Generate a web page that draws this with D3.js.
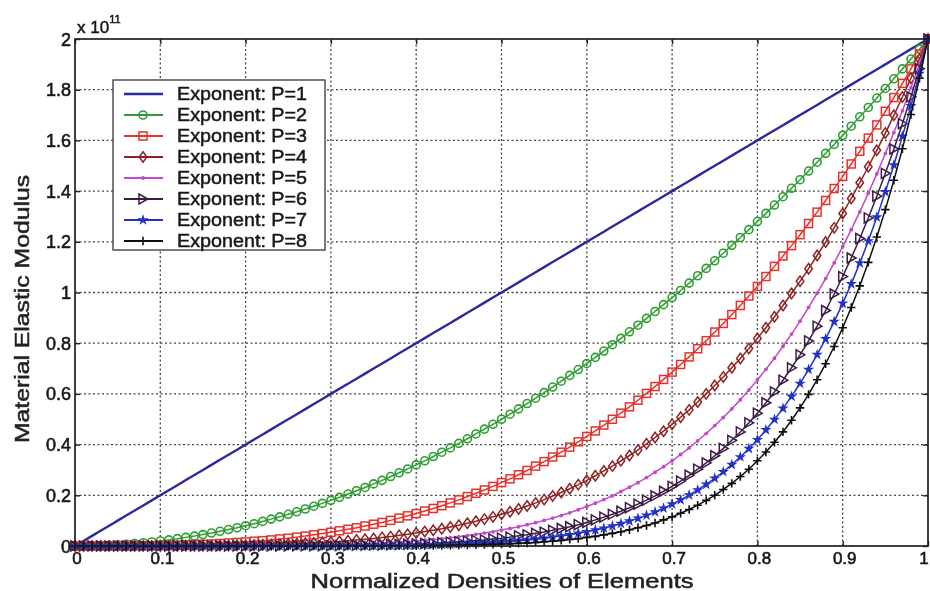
<!DOCTYPE html>
<html>
<head>
<meta charset="utf-8">
<script src="https://cdn.jsdelivr.net/npm/d3@7"></script>
<style>
  body { margin: 0; background: #fff; }
  text { font-family: Arial, "Liberation Sans", sans-serif; }
</style>
</head>
<body>
<script>
// normalized density of the elements (x axis)
const density = [
  0, 0.01, 0.02, 0.03, 0.04, 0.05, 0.06, 0.07, 0.08, 0.09,
  0.1, 0.11, 0.12, 0.13, 0.14, 0.15, 0.16, 0.17, 0.18, 0.19,
  0.2, 0.21, 0.22, 0.23, 0.24, 0.25, 0.26, 0.27, 0.28, 0.29,
  0.3, 0.31, 0.32, 0.33, 0.34, 0.35, 0.36, 0.37, 0.38, 0.39,
  0.4, 0.41, 0.42, 0.43, 0.44, 0.45, 0.46, 0.47, 0.48, 0.49,
  0.5, 0.51, 0.52, 0.53, 0.54, 0.55, 0.56, 0.57, 0.58, 0.59,
  0.6, 0.61, 0.62, 0.63, 0.64, 0.65, 0.66, 0.67, 0.68, 0.69,
  0.7, 0.71, 0.72, 0.73, 0.74, 0.75, 0.76, 0.77, 0.78, 0.79,
  0.8, 0.81, 0.82, 0.83, 0.84, 0.85, 0.86, 0.87, 0.88, 0.89,
  0.9, 0.91, 0.92, 0.93, 0.94, 0.95, 0.96, 0.97, 0.98, 0.99,
  1
];

// elastic modulus, in units of 1e11
const modP1 = [
  0, 0.02, 0.04, 0.06, 0.08, 0.10, 0.12, 0.14, 0.16, 0.18,
  0.20, 0.22, 0.24, 0.26, 0.28, 0.30, 0.32, 0.34, 0.36, 0.38,
  0.40, 0.42, 0.44, 0.46, 0.48, 0.50, 0.52, 0.54, 0.56, 0.58,
  0.60, 0.62, 0.64, 0.66, 0.68, 0.70, 0.72, 0.74, 0.76, 0.78,
  0.80, 0.82, 0.84, 0.86, 0.88, 0.90, 0.92, 0.94, 0.96, 0.98,
  1.00, 1.02, 1.04, 1.06, 1.08, 1.10, 1.12, 1.14, 1.16, 1.18,
  1.20, 1.22, 1.24, 1.26, 1.28, 1.30, 1.32, 1.34, 1.36, 1.38,
  1.40, 1.42, 1.44, 1.46, 1.48, 1.50, 1.52, 1.54, 1.56, 1.58,
  1.60, 1.62, 1.64, 1.66, 1.68, 1.70, 1.72, 1.74, 1.76, 1.78,
  1.80, 1.82, 1.84, 1.86, 1.88, 1.90, 1.92, 1.94, 1.96, 1.98,
  2
];
const modP2 = [
  0, 0.000, 0.001, 0.002, 0.003, 0.005, 0.007, 0.010, 0.013, 0.016,
  0.020, 0.024, 0.029, 0.034, 0.039, 0.045, 0.051, 0.058, 0.065, 0.072,
  0.080, 0.088, 0.097, 0.106, 0.115, 0.125, 0.135, 0.146, 0.157, 0.168,
  0.180, 0.192, 0.205, 0.218, 0.231, 0.245, 0.259, 0.274, 0.289, 0.304,
  0.320, 0.336, 0.353, 0.370, 0.387, 0.405, 0.423, 0.442, 0.461, 0.480,
  0.500, 0.520, 0.541, 0.562, 0.583, 0.605, 0.627, 0.650, 0.673, 0.696,
  0.720, 0.744, 0.769, 0.794, 0.819, 0.845, 0.871, 0.898, 0.925, 0.952,
  0.980, 1.008, 1.037, 1.066, 1.095, 1.125, 1.155, 1.186, 1.217, 1.248,
  1.280, 1.312, 1.345, 1.378, 1.411, 1.445, 1.479, 1.514, 1.549, 1.584,
  1.620, 1.656, 1.693, 1.730, 1.767, 1.805, 1.843, 1.882, 1.921, 1.960,
  2
];
const modP3 = [
  0, 0, 0, 0, 0, 0, 0, 0.001, 0.001, 0.001,
  0.002, 0.003, 0.003, 0.004, 0.005, 0.007, 0.008, 0.010, 0.012, 0.014,
  0.016, 0.019, 0.021, 0.024, 0.028, 0.031, 0.035, 0.039, 0.044, 0.049,
  0.054, 0.060, 0.066, 0.072, 0.079, 0.086, 0.093, 0.101, 0.110, 0.119,
  0.128, 0.138, 0.148, 0.159, 0.170, 0.182, 0.195, 0.208, 0.221, 0.235,
  0.250, 0.265, 0.281, 0.298, 0.315, 0.333, 0.351, 0.370, 0.390, 0.411,
  0.432, 0.454, 0.477, 0.500, 0.524, 0.549, 0.575, 0.602, 0.629, 0.657,
  0.686, 0.716, 0.746, 0.778, 0.810, 0.844, 0.878, 0.913, 0.949, 0.986,
  1.024, 1.063, 1.103, 1.144, 1.185, 1.228, 1.272, 1.317, 1.363, 1.410,
  1.458, 1.507, 1.557, 1.609, 1.661, 1.715, 1.769, 1.825, 1.882, 1.941,
  2
];
const modP4 = [
  0, 0, 0, 0, 0, 0, 0, 0, 0, 0,
  0, 0, 0, 0.001, 0.001, 0.001, 0.001, 0.002, 0.002, 0.003,
  0.003, 0.004, 0.005, 0.006, 0.007, 0.008, 0.009, 0.011, 0.012, 0.014,
  0.016, 0.018, 0.021, 0.024, 0.027, 0.030, 0.034, 0.037, 0.042, 0.046,
  0.051, 0.057, 0.062, 0.068, 0.075, 0.082, 0.090, 0.098, 0.106, 0.115,
  0.125, 0.135, 0.146, 0.158, 0.170, 0.183, 0.197, 0.211, 0.226, 0.242,
  0.259, 0.277, 0.296, 0.315, 0.336, 0.357, 0.379, 0.403, 0.428, 0.453,
  0.480, 0.508, 0.537, 0.568, 0.600, 0.633, 0.667, 0.703, 0.740, 0.779,
  0.819, 0.861, 0.904, 0.949, 0.996, 1.044, 1.094, 1.146, 1.199, 1.255,
  1.312, 1.371, 1.433, 1.496, 1.561, 1.629, 1.699, 1.771, 1.845, 1.921,
  2
];
const modP5 = [
  0, 0, 0, 0, 0, 0, 0, 0, 0, 0,
  0, 0, 0, 0, 0, 0, 0, 0, 0, 0,
  0.001, 0.001, 0.001, 0.001, 0.002, 0.002, 0.002, 0.003, 0.003, 0.004,
  0.005, 0.006, 0.007, 0.008, 0.009, 0.011, 0.012, 0.014, 0.016, 0.018,
  0.020, 0.023, 0.026, 0.029, 0.033, 0.037, 0.041, 0.046, 0.051, 0.056,
  0.063, 0.069, 0.076, 0.084, 0.092, 0.101, 0.110, 0.120, 0.131, 0.143,
  0.156, 0.169, 0.183, 0.198, 0.215, 0.232, 0.250, 0.270, 0.291, 0.313,
  0.336, 0.361, 0.387, 0.415, 0.444, 0.475, 0.507, 0.541, 0.577, 0.615,
  0.655, 0.697, 0.741, 0.788, 0.836, 0.887, 0.941, 0.997, 1.055, 1.117,
  1.181, 1.248, 1.318, 1.391, 1.468, 1.548, 1.631, 1.717, 1.808, 1.902,
  2
];
const modP6 = [
  0, 0, 0, 0, 0, 0, 0, 0, 0, 0,
  0, 0, 0, 0, 0, 0, 0, 0, 0, 0,
  0, 0, 0, 0, 0, 0, 0.001, 0.001, 0.001, 0.001,
  0.001, 0.002, 0.002, 0.003, 0.003, 0.004, 0.004, 0.005, 0.006, 0.007,
  0.008, 0.010, 0.011, 0.013, 0.015, 0.017, 0.019, 0.022, 0.024, 0.028,
  0.031, 0.035, 0.040, 0.044, 0.050, 0.055, 0.062, 0.069, 0.076, 0.084,
  0.093, 0.103, 0.114, 0.125, 0.137, 0.151, 0.165, 0.181, 0.198, 0.216,
  0.235, 0.256, 0.279, 0.303, 0.328, 0.356, 0.385, 0.417, 0.450, 0.486,
  0.524, 0.565, 0.608, 0.654, 0.703, 0.754, 0.809, 0.867, 0.929, 0.994,
  1.063, 1.136, 1.213, 1.294, 1.380, 1.470, 1.566, 1.666, 1.772, 1.883,
  2
];
const modP7 = [
  0, 0, 0, 0, 0, 0, 0, 0, 0, 0,
  0, 0, 0, 0, 0, 0, 0, 0, 0, 0,
  0, 0, 0, 0, 0, 0, 0, 0, 0, 0,
  0, 0.001, 0.001, 0.001, 0.001, 0.001, 0.002, 0.002, 0.002, 0.003,
  0.003, 0.004, 0.005, 0.005, 0.006, 0.007, 0.009, 0.010, 0.012, 0.014,
  0.016, 0.018, 0.021, 0.023, 0.027, 0.030, 0.035, 0.039, 0.044, 0.050,
  0.056, 0.063, 0.070, 0.079, 0.088, 0.098, 0.109, 0.121, 0.134, 0.149,
  0.165, 0.182, 0.201, 0.221, 0.243, 0.267, 0.293, 0.321, 0.351, 0.384,
  0.419, 0.458, 0.499, 0.543, 0.590, 0.641, 0.696, 0.755, 0.817, 0.885,
  0.957, 1.034, 1.116, 1.203, 1.297, 1.397, 1.503, 1.616, 1.736, 1.864,
  2
];
const modP8 = [
  0, 0, 0, 0, 0, 0, 0, 0, 0, 0,
  0, 0, 0, 0, 0, 0, 0, 0, 0, 0,
  0, 0, 0, 0, 0, 0, 0, 0, 0, 0,
  0, 0, 0, 0, 0, 0, 0.001, 0.001, 0.001, 0.001,
  0.001, 0.002, 0.002, 0.002, 0.003, 0.003, 0.004, 0.005, 0.006, 0.007,
  0.008, 0.009, 0.011, 0.012, 0.014, 0.017, 0.019, 0.022, 0.026, 0.029,
  0.034, 0.038, 0.044, 0.050, 0.056, 0.064, 0.072, 0.081, 0.091, 0.103,
  0.115, 0.129, 0.144, 0.161, 0.180, 0.200, 0.223, 0.247, 0.274, 0.303,
  0.336, 0.371, 0.409, 0.450, 0.496, 0.545, 0.598, 0.656, 0.719, 0.787,
  0.861, 0.941, 1.026, 1.119, 1.219, 1.327, 1.443, 1.567, 1.702, 1.845,
  2
];

const seriesNames = [
  "Exponent: P=1", "Exponent: P=2", "Exponent: P=3", "Exponent: P=4",
  "Exponent: P=5", "Exponent: P=6", "Exponent: P=7", "Exponent: P=8"
];
const xTicks = [0, 0.1, 0.2, 0.3, 0.4, 0.5, 0.6, 0.7, 0.8, 0.9, 1];
const yTicks = [0, 0.2, 0.4, 0.6, 0.8, 1, 1.2, 1.4, 1.6, 1.8, 2];

const allValues = [modP1, modP2, modP3, modP4, modP5, modP6, modP7, modP8];
const colors = ["#2a2a9c", "#2e9e32", "#e5332e", "#8e2424", "#c248cc", "#3a1c42", "#2233c4", "#111111"];
const markers = [null, "circle", "square", "diamond", "dot", "triangle", "star", "plus"];

const width = 930;
const height = 591;

const svg = d3.select('body').append('svg')
    .attr("width", width)
    .attr("height", height);

svg.append("defs").append("filter")
    .attr("id", "soft")
    .append("feGaussianBlur")
    .attr("stdDeviation", 0.7);

const root = svg.append("g").attr("filter", "url(#soft)");

const x = d3.scaleLinear().domain([0, 1]).range([75, 928]);
const y = d3.scaleLinear().domain([0, 2]).range([546, 39]);

// dotted grid
root.append("g")
    .selectAll("line")
    .data(xTicks.slice(1, -1))
    .join("line")
    .attr("x1", d => x(d)).attr("x2", d => x(d))
    .attr("y1", y(0)).attr("y2", y(2))
    .attr("stroke", "#444")
    .attr("stroke-width", 1.3)
    .attr("stroke-dasharray", "2,2.5");

root.append("g")
    .selectAll("line")
    .data(yTicks.slice(1, -1))
    .join("line")
    .attr("x1", x(0)).attr("x2", x(1))
    .attr("y1", d => y(d)).attr("y2", d => y(d))
    .attr("stroke", "#444")
    .attr("stroke-width", 1.3)
    .attr("stroke-dasharray", "2,2.5");

// inward ticks on all four sides
const tickLen = 5;
const axisStyle = g => {
    g.select(".domain").remove();
    g.selectAll(".tick line").attr("stroke", "#222").attr("stroke-width", 1.4);
    g.selectAll(".tick text").remove();
};
root.append("g").attr("transform", `translate(0,${y(0)})`)
    .call(d3.axisBottom(x).tickValues(xTicks).tickSize(-tickLen)).call(axisStyle);
root.append("g").attr("transform", `translate(0,${y(2)})`)
    .call(d3.axisTop(x).tickValues(xTicks).tickSize(-tickLen)).call(axisStyle);
root.append("g").attr("transform", `translate(${x(0)},0)`)
    .call(d3.axisLeft(y).tickValues(yTicks).tickSize(-tickLen)).call(axisStyle);
root.append("g").attr("transform", `translate(${x(1)},0)`)
    .call(d3.axisRight(y).tickValues(yTicks).tickSize(-tickLen)).call(axisStyle);

// tick labels
root.append("g")
    .selectAll("text")
    .data(xTicks)
    .join("text")
    .attr("x", d => Math.min(x(d) + 2, 924))
    .attr("y", 564)
    .attr("text-anchor", "middle")
    .attr("font-size", 17)
    .attr("fill", "#1a1a1a")
    .attr("stroke", "#1a1a1a")
    .attr("stroke-width", 0.6)
    .text(d => d);

root.append("g")
    .selectAll("text")
    .data(yTicks)
    .join("text")
    .attr("x", 71)
    .attr("y", d => y(d) + 6.5)
    .attr("text-anchor", "end")
    .attr("font-size", 18)
    .attr("fill", "#1a1a1a")
    .attr("stroke", "#1a1a1a")
    .attr("stroke-width", 0.6)
    .text(d => d);

// exponent of the y axis
const expo = root.append("text")
    .attr("x", 77).attr("y", 33)
    .attr("font-size", 17)
    .attr("fill", "#1a1a1a")
    .attr("stroke", "#1a1a1a")
    .attr("stroke-width", 0.5);
expo.append("tspan").text("x 10");
expo.append("tspan").attr("dy", -10).attr("font-size", 11).text("11");

// axis titles
root.append("text")
    .attr("x", 502).attr("y", 588)
    .attr("text-anchor", "middle")
    .attr("font-size", 20)
    .attr("textLength", 383)
    .attr("lengthAdjust", "spacingAndGlyphs")
    .attr("fill", "#222")
    .attr("stroke", "#222")
    .attr("stroke-width", 0.5)
    .text("Normalized Densities of Elements");

root.append("text")
    .attr("transform", "translate(29,309) rotate(-90)")
    .attr("text-anchor", "middle")
    .attr("font-size", 20)
    .attr("textLength", 268)
    .attr("lengthAdjust", "spacingAndGlyphs")
    .attr("fill", "#222")
    .attr("stroke", "#222")
    .attr("stroke-width", 0.5)
    .text("Material Elastic Modulus");

// marker shapes
function drawMarker(sel, kind, color) {
    if (kind === "circle") {
        sel.append("circle").attr("r", 4).attr("fill", "none").attr("stroke", color).attr("stroke-width", 1.6);
    } else if (kind === "square") {
        sel.append("rect").attr("x", -4).attr("y", -4).attr("width", 8).attr("height", 8)
            .attr("fill", "none").attr("stroke", color).attr("stroke-width", 1.5);
    } else if (kind === "diamond") {
        sel.append("path").attr("d", "M0,-5.2L3.8,0L0,5.2L-3.8,0Z")
            .attr("fill", "none").attr("stroke", color).attr("stroke-width", 1.5);
    } else if (kind === "dot") {
        sel.append("circle").attr("r", 1.9).attr("fill", color);
    } else if (kind === "triangle") {
        sel.append("path").attr("d", "M-4,-5L4.8,0L-4,5Z")
            .attr("fill", "none").attr("stroke", color).attr("stroke-width", 1.5);
    } else if (kind === "star") {
        sel.append("path").attr("d", d3.symbol(d3.symbolStar, 40)()).attr("fill", color);
    } else if (kind === "plus") {
        sel.append("path").attr("d", "M-4.2,0H4.2M0,-4.2V4.2")
            .attr("stroke", color).attr("stroke-width", 1.6);
    }
}

const line = d3.line()
    .x(d => x(d[0]))
    .y(d => y(d[1]));

allValues.forEach((vals, k) => {
    const pts = density.map((d, i) => [d, vals[i]]);
    const g = root.append("g").attr("class", "series");
    g.append("path")
        .attr("d", line(pts))
        .attr("fill", "none")
        .attr("stroke", colors[k])
        .attr("stroke-width", k === 0 ? 2.4 : 1.5);
    if (markers[k]) {
        g.selectAll("g.m")
            .data(pts)
            .join("g")
            .attr("class", "m")
            .attr("transform", d => `translate(${x(d[0])},${y(d[1])})`)
            .each(function() { drawMarker(d3.select(this), markers[k], colors[k]); });
    }
});

// plot box
root.append("rect")
    .attr("x", x(0)).attr("y", y(2))
    .attr("width", x(1) - x(0)).attr("height", y(0) - y(2))
    .attr("fill", "none")
    .attr("stroke", "#222")
    .attr("stroke-width", 1.7);

// legend
const legend = root.append("g");
legend.append("rect")
    .attr("x", 113).attr("y", 80)
    .attr("width", 212).attr("height", 170)
    .attr("fill", "#fff")
    .attr("stroke", "#444")
    .attr("stroke-width", 1.4);

seriesNames.forEach((name, k) => {
    const ly = 94 + k * 21;
    const row = legend.append("g");
    row.append("line")
        .attr("x1", 124).attr("x2", 163)
        .attr("y1", ly).attr("y2", ly)
        .attr("stroke", colors[k])
        .attr("stroke-width", k === 0 ? 2.6 : 1.8);
    if (markers[k]) {
        const m = row.append("g").attr("transform", `translate(143,${ly})`);
        drawMarker(m, markers[k], colors[k]);
    }
    row.append("text")
        .attr("x", 177).attr("y", ly + 6)
        .attr("font-size", 18)
        .attr("textLength", 130)
        .attr("lengthAdjust", "spacingAndGlyphs")
        .attr("fill", "#1a1a1a")
        .attr("stroke", "#1a1a1a")
        .attr("stroke-width", 0.5)
        .text(name);
});
</script>
</body>
</html>
